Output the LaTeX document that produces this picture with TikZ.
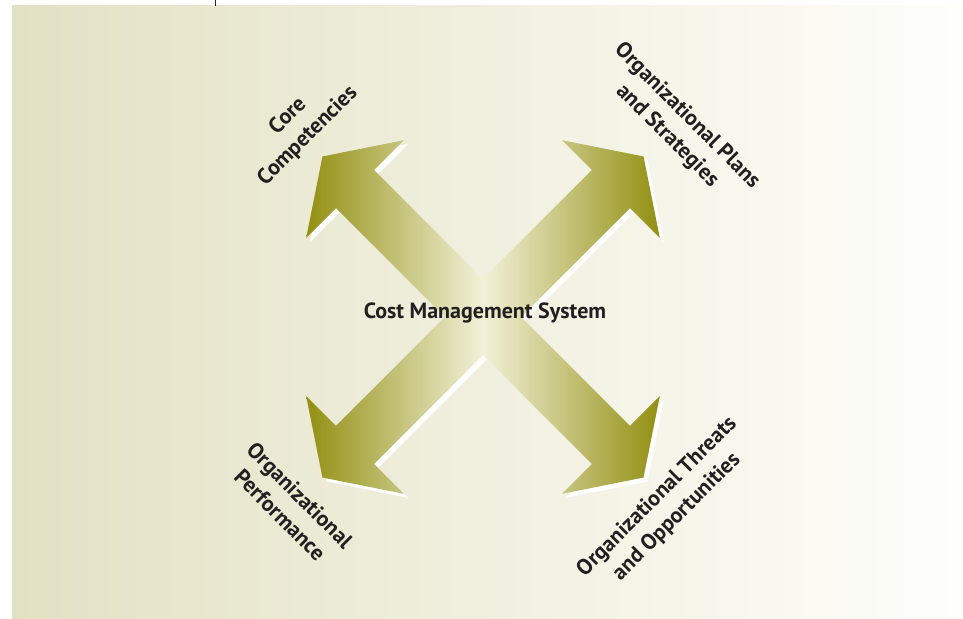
\documentclass[tikz,border=0pt]{standalone}
\usepackage{fontspec}
\setmainfont{PT Sans}
\usetikzlibrary{calc}
\definecolor{olivedk}{HTML}{928F12}
\definecolor{olivelt}{HTML}{F2F1D8}
\definecolor{bgleft}{HTML}{E3E1C3}
\definecolor{bgright}{HTML}{FEFEFB}
\definecolor{ink}{HTML}{231F20}
\pgfdeclarehorizontalshading{olivex}{100bp}{color(0bp)=(olivedk);
  color(25bp)=(olivedk); color(50bp)=(olivelt); color(75bp)=(olivedk);
  color(100bp)=(olivedk)}
\tikzset{x=1pt,y=-1pt,
  every node/.style={font=\bfseries\fontsize{22}{28}\selectfont,text=ink,
    align=center,inner sep=0pt},
  backdrop/.style={left color=bgleft,right color=bgright},
  arrowshadow/.style={fill=white},
  arrowbody/.style={shading=olivex}}
% the four arrows as one path (shaft 54 wide, head 138 wide)
\newcommand{\crossarrows}{\foreach \a in {45,135,225,315}{
  ([rotate=\a]0,27) -- ([rotate=\a]181,27) -- ([rotate=\a]181,69)
  -- ([rotate=\a]227,0) -- ([rotate=\a]181,-69) -- ([rotate=\a]181,-27)
  -- ([rotate=\a]0,-27) -- cycle}}
\begin{document}
\begin{tikzpicture}
\useasboundingbox (0,0) rectangle (963,618);
\shade[backdrop] (12,6) rectangle (963,618);
\draw[ink,line width=.8pt] (215,0) -- (215,6);
% shadow first, then the shaded arrows
\fill[arrowshadow,shift={(487,321)}] \crossarrows;
\shade[arrowbody,shift={(483,317)}] \crossarrows;
\node (cms) at (485,313) {Cost Management System};
\node[rotate=45] (core) at (298,126) {Core\\Competencies};
\node[rotate=-45] (plans) at (677,126) {Organizational Plans\\and Strategies};
\node[rotate=-45] (perf) at (290,505) {Organizational\\Performance};
\node[rotate=45] (threats) at (667,507) {Organizational Threats\\and Opportunities};
\end{tikzpicture}
\end{document}
